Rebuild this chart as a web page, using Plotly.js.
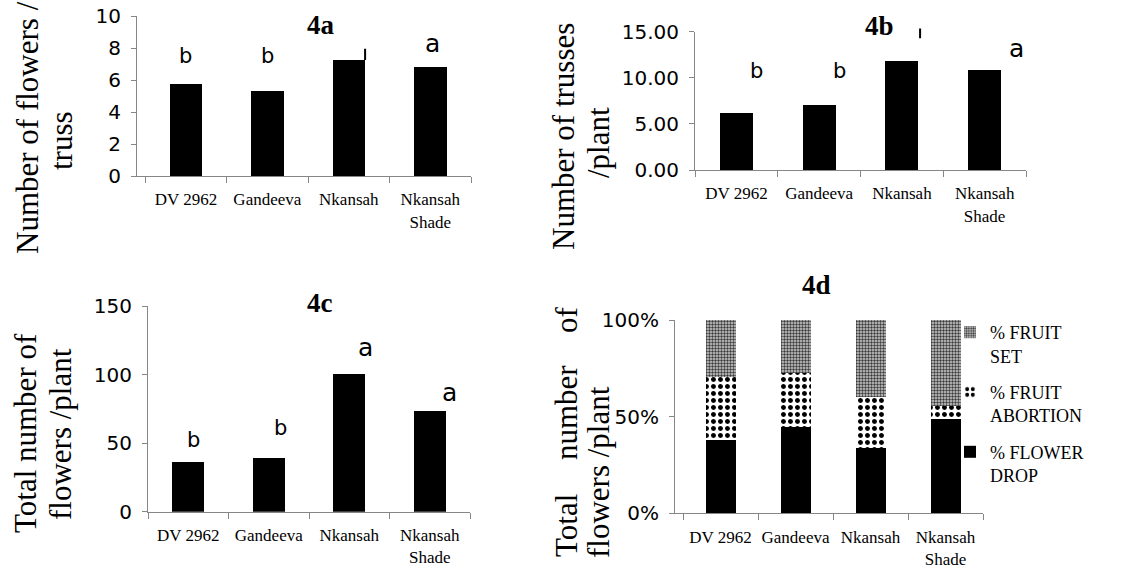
<!DOCTYPE html>
<html>
<head>
<meta charset="utf-8">
<script src="https://cdn.plot.ly/plotly-3.0.1.min.js"></script>
<style>html,body{margin:0;padding:0;background:#fff;}#chart{width:1123px;height:570px;}</style>
</head>
<body>
<div id="chart"></div>
<script>
// ---------- data ----------
const categories = ["DV 2962", "Gandeeva", "Nkansah", "Nkansah<br>Shade"];
const flowersPerTruss = [5.73, 5.31, 7.25, 6.83];        // 4a
const trussesPerPlant = [6.21, 7.05, 11.82, 10.85];      // 4b
const flowersPerPlant = [36.0, 39.2, 100.4, 73.2];       // 4c
const pctFlowerDrop = [37.9, 44.8, 33.9, 48.6];          // 4d
const pctFruitAbortion = [32.5, 27.6, 26.4, 6.9];
const pctFruitSet = [29.6, 27.6, 39.7, 44.5];
const letters4a = ["b", "b", "", "a"];
const letters4b = ["b", "b", "", "a"];
const letters4c = ["b", "b", "a", "a"];
const stray4a = [7.25, 8.05];   // partial error mark on Nkansah bar (4a)
const stray4b = [14.3, 15.5];   // partial error mark above Nkansah bar (4b)

// ---------- helpers ----------
const W = 1123, H = 570;
const px = v => v / W;
const py = v => 1 - v / H;
const SERIF = "Liberation Serif, Times New Roman, serif";
const SANS = "DejaVu Sans, sans-serif";
const AX = "#868686";

function xAxis(domain, range, anchor) {
  return {
    domain: domain, range: range, type: "category", anchor: anchor,
    showline: true, linecolor: AX, linewidth: 1,
    ticks: "outside", ticklen: 6, tickcolor: AX, tickson: "boundaries",
    showgrid: false, zeroline: false, fixedrange: true, tickangle: 0,
    tickfont: {family: SERIF, size: 17, color: "#000"},
    ticklabelstandoff: 8
  };
}
function yAxis(domain, range, dtick, anchor, extra) {
  return Object.assign({
    domain: domain, range: range, dtick: dtick, anchor: anchor,
    showline: true, linecolor: AX, linewidth: 1,
    ticks: "outside", ticklen: 5, tickcolor: AX,
    showgrid: false, zeroline: false, fixedrange: true,
    tickfont: {family: SANS, size: 20, color: "#000"},
    ticklabelstandoff: 6
  }, extra || {});
}

const barW = 0.4;
const traces = [
  {type: "bar", x: categories, y: flowersPerTruss, xaxis: "x", yaxis: "y", width: barW,
   marker: {color: "#000"}, showlegend: false, hoverinfo: "x+y"},
  {type: "bar", x: categories, y: trussesPerPlant, xaxis: "x2", yaxis: "y2", width: barW,
   marker: {color: "#000"}, showlegend: false, hoverinfo: "x+y"},
  {type: "bar", x: categories, y: flowersPerPlant, xaxis: "x3", yaxis: "y3", width: barW,
   marker: {color: "#000"}, showlegend: false, hoverinfo: "x+y"},
  {type: "bar", name: "% FLOWER<br>DROP", x: categories, y: pctFlowerDrop, xaxis: "x4", yaxis: "y4",
   width: barW, legendgroup: "g1", legendrank: 3, marker: {color: "#000", line: {width: 0}}},
  {type: "bar", name: "% FRUIT<br>ABORTION", x: categories, y: pctFruitAbortion, xaxis: "x4", yaxis: "y4",
   width: barW, legendgroup: "g2", legendrank: 2,
   marker: {color: "#fff", line: {width: 0},
            pattern: {shape: ".", fgcolor: "#000", bgcolor: "#fff", size: 7, solidity: 0.4}}},
  {type: "bar", name: "% FRUIT<br>SET", x: categories, y: pctFruitSet, xaxis: "x4", yaxis: "y4",
   width: barW, legendgroup: "g3", legendrank: 1,
   marker: {color: "#888", line: {width: 0},
            pattern: {shape: ".", fgcolor: "#3a3a3a", bgcolor: "#d0d0d0", size: 3, solidity: 0.5}}}
];

// letter annotations (positions in category index / data units)
const ann = [];
function letter(txt, x, y, xr, yr, size) {
  if (!txt) return;
  ann.push({text: txt, x: x, y: y, xref: xr, yref: yr, showarrow: false,
            xanchor: "center", yanchor: "middle",
            font: {family: SANS, size: size, color: "#000"}});
}
const pos4a = [[0.0, 7.5], [1.0, 7.5], null, [3.03, 8.31]];
const pos4b = [[0.24, 10.74], [1.25, 10.74], null, [3.38, 13.18]];
const pos4c = [[0.06, 52.3], [1.15, 61.0], [2.20, 119.8], [3.24, 86.6]];
letters4a.forEach((t, i) => { if (pos4a[i]) letter(t, pos4a[i][0], pos4a[i][1], "x", "y", t === "a" ? 25 : 21); });
letters4b.forEach((t, i) => { if (pos4b[i]) letter(t, pos4b[i][0], pos4b[i][1], "x2", "y2", t === "a" ? 25 : 21); });
letters4c.forEach((t, i) => { if (pos4c[i]) letter(t, pos4c[i][0], pos4c[i][1], "x3", "y3", t === "a" ? 25 : 21); });

// panel titles
function paperText(txt, x, y, size, bold, angle) {
  ann.push({text: bold ? "<b>" + txt + "</b>" : txt, x: px(x), y: py(y), xref: "paper", yref: "paper",
            showarrow: false, xanchor: "center", yanchor: "middle", textangle: angle || 0,
            font: {family: SERIF, size: size, color: "#000"}});
}
paperText("4a", 321, 25, 27, true);
paperText("4b", 879, 26, 27, true);
paperText("4c", 320, 303, 27, true);
paperText("4d", 816, 285, 27, true);

// y-axis titles (rotated, line by line)
paperText("Number of flowers /", 27, 128, 31, false, -90);
paperText("truss", 61, 141, 31, false, -90);
paperText("Number of trusses", 564, 137, 31, false, -90);
paperText("/plant", 598, 143, 31, false, -90);
paperText("Total number of", 25, 433, 31, false, -90);
paperText("flowers /plant", 60, 434, 31, false, -90);
paperText("of", 566, 320, 31, false, -90);
paperText("number", 566, 413, 31, false, -90);
paperText("Total", 566, 526, 31, false, -90);
paperText("flowers /plant", 598, 472, 31, false, -90);

// stray partial error marks (drawn as arrowless annotation lines so they are not clipped)
function strayMark(xr, yr, x, lo, hi) {
  ann.push({text: "", xref: xr, yref: yr, axref: xr, ayref: yr, x: x, y: lo, ax: x, ay: hi,
            showarrow: true, arrowhead: 0, arrowwidth: 2, arrowcolor: "#000", standoff: 0, startstandoff: 0});
}
strayMark("x", "y", 2 + barW / 2, stray4a[0], stray4a[1]);
strayMark("x2", "y2", 2 + barW / 2 + 0.02, stray4b[0], stray4b[1]);

const layout = {
  width: W, height: H,
  margin: {l: 0, r: 0, t: 0, b: 0},
  paper_bgcolor: "#fff", plot_bgcolor: "rgba(0,0,0,0)",
  barmode: "stack",
  showlegend: true,
  legend: {x: px(950), y: py(314), xanchor: "left", yanchor: "top",
           traceorder: "grouped", tracegroupgap: 10, valign: "top",
           bgcolor: "rgba(0,0,0,0)", font: {family: SERIF, size: 18, color: "#000"}},
  xaxis: xAxis([px(137), px(471)], [-0.6, 3.5], "y"),
  yaxis: yAxis([py(176), py(16)], [0, 10], 2, "x"),
  xaxis2: xAxis([px(695), px(1026)], [-0.5, 3.5], "y2"),
  yaxis2: yAxis([py(170), py(31.7)], [0, 15], 5, "x2", {tickformat: ".2f"}),
  xaxis3: xAxis([px(148), px(470)], [-0.5, 3.5], "y3"),
  yaxis3: yAxis([py(511.7), py(306)], [0, 150], 50, "x3"),
  xaxis4: xAxis([px(675), px(983)], [-0.6067, 3.5], "y4"),
  yaxis4: yAxis([py(513.3), py(320)], [0, 100], 50, "x4", {ticksuffix: "%"}),
  annotations: ann
};

Plotly.newPlot("chart", traces, layout, {displayModeBar: false, staticPlot: true});
</script>
</body>
</html>
